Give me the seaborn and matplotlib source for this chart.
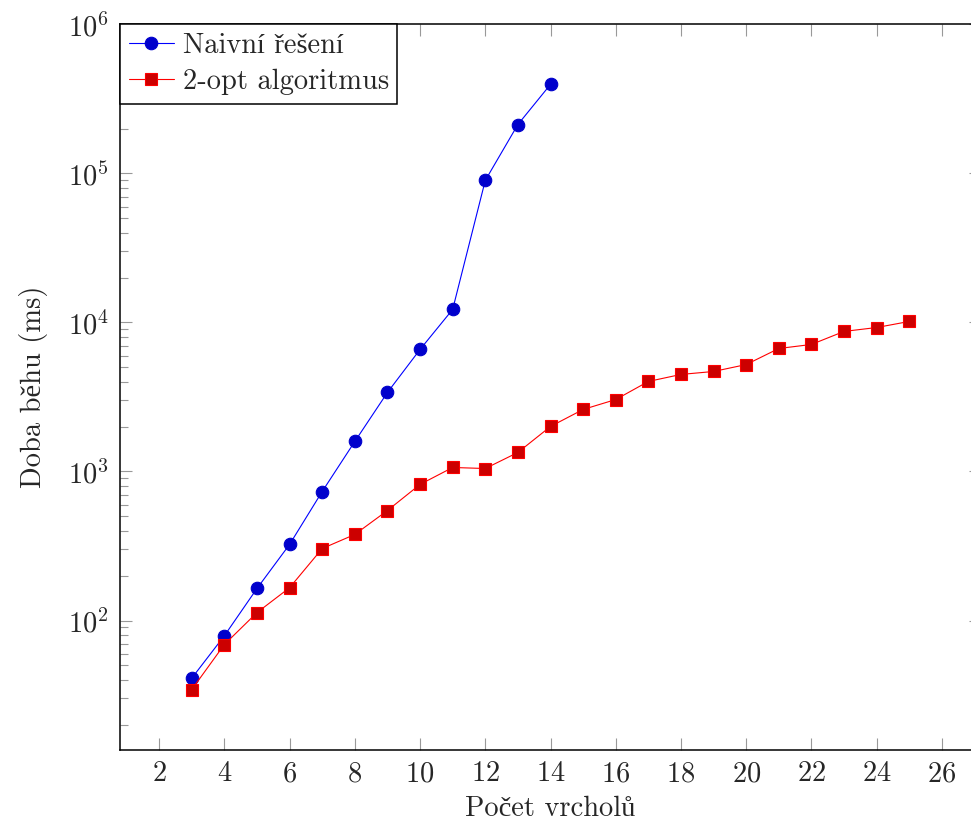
import numpy as np
import pandas as pd
import matplotlib
matplotlib.use("Agg")
import matplotlib.pyplot as plt
import seaborn as sns
from matplotlib.ticker import LogLocator, NullFormatter

# ---- data ----
naive_x = [3, 4, 5, 6, 7, 8, 9, 10, 11, 12, 13, 14]
naive_y = [41, 79, 164, 324, 734, 1590, 3390, 6590, 12230, 89800, 213000, 396000]
opt_x = list(range(3, 26))
opt_y = [34.4, 69, 113, 166, 304, 378, 547, 819, 1064, 1047, 1342, 2005, 2608,
         3040, 4020, 4480, 4690, 5220, 6690, 7120, 8710, 9250, 10160]
series_names = ["Naivní řešení", "2-opt algoritmus"]
x_label = "Počet vrcholů"
y_label = "Doba běhu (ms)"
x_ticks = list(range(2, 27, 2))

df = pd.concat([
    pd.DataFrame({"x": naive_x, "y": naive_y, "s": series_names[0]}),
    pd.DataFrame({"x": opt_x, "y": opt_y, "s": series_names[1]}),
], ignore_index=True)

sns.set_style("ticks")
plt.rcParams["font.family"] = ["cmr10", "Liberation Serif"]
plt.rcParams["mathtext.fontset"] = "cm"
plt.rcParams["axes.formatter.use_mathtext"] = True

W, H = 971, 824
fig = plt.figure(figsize=(W / 100, H / 100), dpi=100)
left, right, top, bottom = 120, 981, 24, 750
ax = fig.add_axes([left / W, 1 - bottom / H, (right - left) / W, (bottom - top) / H])

styles = {
    series_names[0]: dict(color="#0000FF", marker="o", mfc="#0000CC", mec="#0000CC", ms=9),
    series_names[1]: dict(color="#FF0000", marker="s", mfc="#CC0000", mec="#FF0000", ms=8.5),
}
for name in series_names:
    st = styles[name]
    sns.lineplot(data=df[df["s"] == name], x="x", y="y", ax=ax, label=name,
                 color=st["color"], marker=st["marker"], markerfacecolor=st["mfc"],
                 markeredgecolor=st["mec"], markersize=st["ms"], markeredgewidth=0.8,
                 linewidth=0.8, estimator=None, sort=False)

ax.set_yscale("log")
ax.set_xlim(0.8, 27.2)
ax.set_ylim(10 ** 1.131, 10 ** 6.003)
ax.set_xticks(x_ticks)
ax.yaxis.set_major_locator(LogLocator(base=10, numticks=10))
ax.yaxis.set_minor_locator(LogLocator(base=10, subs=np.arange(2, 10), numticks=20))
ax.yaxis.set_minor_formatter(NullFormatter())

fs = 20.5
ax.set_xlabel(x_label, fontsize=fs, labelpad=6)
ax.set_ylabel(y_label, fontsize=fs, labelpad=14)
ax.tick_params(axis="both", which="major", direction="in", length=8.5, width=0.8,
               color="#999999", labelsize=fs, top=True, right=True, pad=8)
ax.tick_params(axis="both", which="minor", direction="in", length=5.5, width=0.8,
               color="#999999", top=True, right=True)
for sp in ax.spines.values():
    sp.set_linewidth(1.1)
    sp.set_color("black")

leg = ax.legend(loc="upper left", borderaxespad=0, fancybox=False, framealpha=1,
                edgecolor="black", fontsize=fs, handlelength=1.6, borderpad=0.3,
                labelspacing=0.35, handletextpad=0.3)
leg.get_frame().set_linewidth(1.1)
ax.grid(False)

fig.savefig("out.png", dpi=100)
